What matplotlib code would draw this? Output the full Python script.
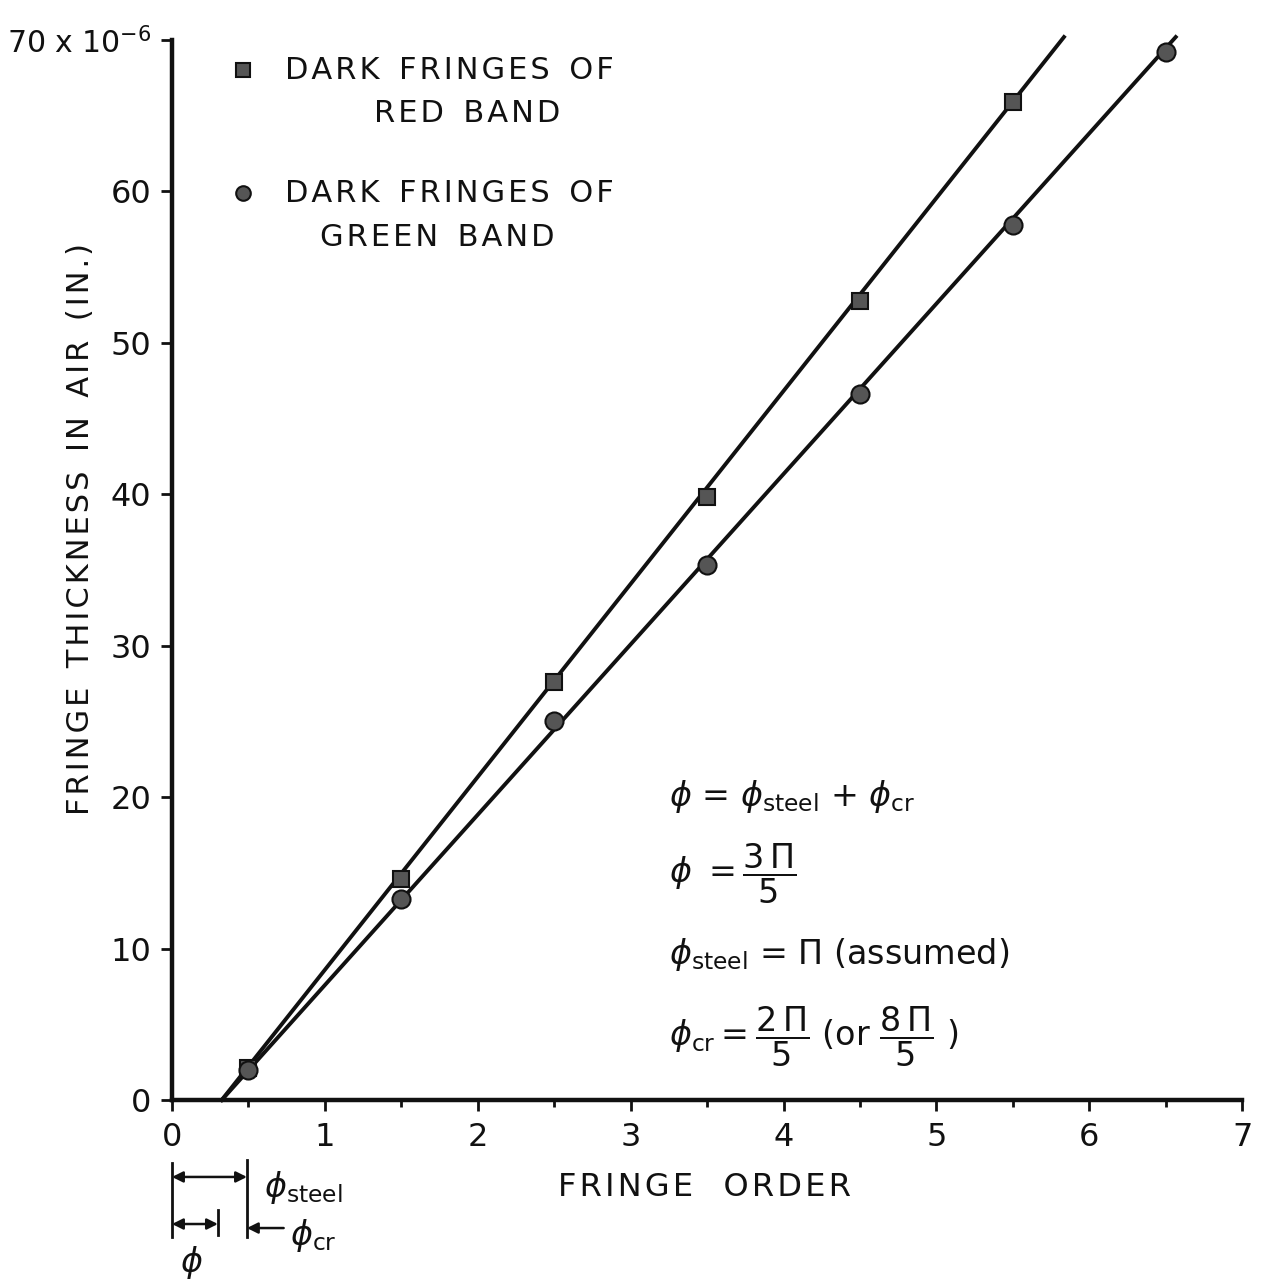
import matplotlib
matplotlib.use("Agg")
import matplotlib.pyplot as plt
import numpy as np

# ---- data ----
red_order = [0.5, 1.5, 2.5, 3.5, 4.5, 5.5]
red_thick = [2.1, 14.6, 27.6, 39.8, 52.8, 65.9]
green_order = [0.5, 1.5, 2.5, 3.5, 4.5, 5.5, 6.5]
green_thick = [2.0, 13.3, 25.0, 35.3, 46.6, 57.8, 69.2]
red_fit_x = [0.325, 5.834]
red_fit_y = [0.0, 70.2]
green_fit_x = [0.325, 6.565]
green_fit_y = [0.0, 70.2]
x_ticks = [0, 1, 2, 3, 4, 5, 6, 7]
y_ticks = [0, 10, 20, 30, 40, 50, 60, 70]
y_ticklabels = ["0", "10", "20", "30", "40", "50", "60", "70 x 10$^{-6}$"]
phi_x = 0.30        # phi = 3pi/5  -> 0.3 fringe
phi_steel_x = 0.49  # phi_steel = pi -> 0.5 fringe

plt.rcParams['font.family'] = ['DejaVu Sans']
plt.rcParams['mathtext.fontset'] = 'dejavusans'


def spaced(s):
    return '\u200a'.join(s)


fig = plt.figure(figsize=(12.65, 12.84), dpi=100)
ax = fig.add_axes([0.136, 0.1433, 0.846, 0.8255])
ax.set_xlim(0, 7)
ax.set_ylim(0, 70)

ink = '#111111'
ax.plot(red_fit_x, red_fit_y, color=ink, lw=2.8, clip_on=False, zorder=2)
ax.plot(green_fit_x, green_fit_y, color=ink, lw=2.8, clip_on=False, zorder=2)
ax.plot(red_order, red_thick, ls='none', marker='s', ms=12, mfc='#555555',
        mec='#111111', mew=1.5, clip_on=False, zorder=3)
ax.plot(green_order, green_thick, ls='none', marker='o', ms=13, mfc='#555555',
        mec='#111111', mew=1.5, clip_on=False, zorder=3)

for s in ['top', 'right']:
    ax.spines[s].set_visible(False)
for s in ['left', 'bottom']:
    ax.spines[s].set_linewidth(3.2)
    ax.spines[s].set_color(ink)

ax.set_xticks(x_ticks)
ax.set_xticks(np.arange(0.5, 7, 1.0), minor=True)
ax.set_yticks(y_ticks)
ax.set_yticklabels(y_ticklabels)
ax.tick_params(axis='both', which='major', direction='out', length=8, width=2,
               labelsize=23, colors=ink)
ax.tick_params(axis='x', which='major', pad=8)
ax.tick_params(axis='y', which='major', pad=7)
ax.tick_params(axis='x', which='minor', direction='out', length=5, width=2, colors=ink)
top_lbl = ax.get_yticklabels()[-1]
top_lbl.set_fontsize(21.5)

ax.set_xlabel(spaced("FRINGE") + "   " + spaced("ORDER"), fontsize=23, color=ink)
ax.xaxis.set_label_coords(0.498, -0.083)
ax.xaxis.label.set_va('center')
ax.set_ylabel("  ".join(spaced(w) for w in ["FRINGE", "THICKNESS", "IN", "AIR", "(IN.)"]),
              fontsize=22, color=ink, va='center')
ax.yaxis.set_label_coords(-0.086, 0.539)

# ---- legend (hand placed) ----
ax.plot([0.0665], [0.9717], transform=ax.transAxes, marker='s', ms=9.5,
        mfc='#555555', mec='#111111', mew=1.5, clip_on=False)
ax.plot([0.0665], [0.8556], transform=ax.transAxes, marker='o', ms=10.5,
        mfc='#555555', mec='#111111', mew=1.5, clip_on=False)
leg_kw = dict(transform=ax.transAxes, fontsize=22, color=ink, va='center')
line1 = "  ".join(spaced(w) for w in ["DARK", "FRINGES", "OF"])
ax.text(0.106, 0.9717, line1, ha='left', **leg_kw)
ax.text(0.276, 0.931, "  ".join(spaced(w) for w in ["RED", "BAND"]), ha='center', **leg_kw)
ax.text(0.106, 0.8556, line1, ha='left', **leg_kw)
ax.text(0.248, 0.8141, "  ".join(spaced(w) for w in ["GREEN", "BAND"]), ha='center', **leg_kw)

# ---- equations ----
eq_kw = dict(transform=ax.transAxes, fontsize=24, color=ink, ha='left', va='center')
ax.text(0.464, 0.286, r"$\phi$ = $\phi_{\mathrm{steel}}$ + $\phi_{\mathrm{cr}}$", **eq_kw)
ax.text(0.464, 0.213, r"$\phi\ = \dfrac{3\,\Pi}{5}$", **eq_kw)
ax.text(0.464, 0.137, r"$\phi_{\mathrm{steel}}$ = $\Pi$ (assumed)", **eq_kw)
ax.text(0.464, 0.060, r"$\phi_{\mathrm{cr}} = \dfrac{2\,\Pi}{5}$ (or $\dfrac{8\,\Pi}{5}$ )", **eq_kw)

# ---- phase diagram below the axis ----
tr = ax.get_xaxis_transform()
lkw = dict(color=ink, lw=2, transform=tr, clip_on=False)
ax.plot([0, 0], [-0.0594, -0.129], **lkw)
ax.plot([phi_steel_x, phi_steel_x], [-0.057, -0.129], **lkw)
ax.plot([phi_x, phi_x], [-0.104, -0.127], **lkw)
akw = dict(xycoords=tr, textcoords=tr, annotation_clip=False)
ax.annotate("", xy=(0, -0.0726), xytext=(phi_steel_x, -0.0726),
            arrowprops=dict(arrowstyle='<|-|>', color=ink, lw=1.8, shrinkA=0, shrinkB=0,
                            mutation_scale=16), **akw)
ax.annotate("", xy=(0, -0.117), xytext=(phi_x, -0.117),
            arrowprops=dict(arrowstyle='<|-|>', color=ink, lw=1.8, shrinkA=0, shrinkB=0,
                            mutation_scale=16), **akw)
ax.annotate("", xy=(phi_steel_x, -0.1208), xytext=(0.73, -0.1208),
            arrowprops=dict(arrowstyle='-|>', color=ink, lw=1.8, shrinkA=0, shrinkB=0,
                            mutation_scale=16), **akw)
ax.text(0.60, -0.083, r"$\phi_{\mathrm{steel}}$", transform=tr, fontsize=24, color=ink,
        ha='left', va='center')
ax.text(0.77, -0.128, r"$\phi_{\mathrm{cr}}$", transform=tr, fontsize=24, color=ink,
        ha='left', va='center')
ax.text(0.13, -0.153, r"$\phi$", transform=tr, fontsize=24, color=ink,
        ha='center', va='center')

fig.savefig("out.png", dpi=100, facecolor='white')
